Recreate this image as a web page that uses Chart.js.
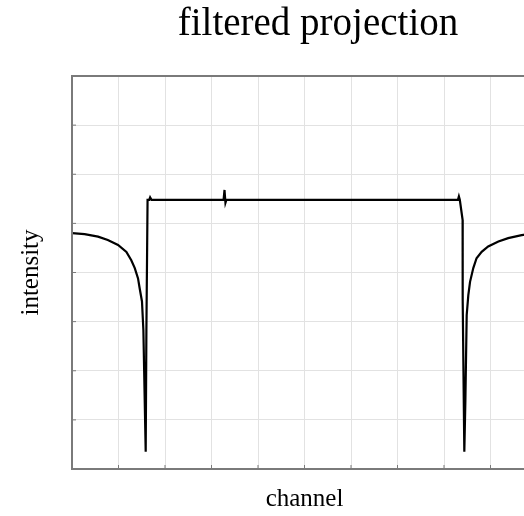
<!DOCTYPE html>
<html lang="en">
<head>
    <meta charset="UTF-8">
    <title>filtered projection</title>
    <style>
        html, body { margin: 0; padding: 0; background: #fff; overflow: hidden; }
        #wrap { position: relative; width: 636px; height: 516px; }
    </style>
    <script src="https://cdn.jsdelivr.net/npm/chart.js"></script>
</head>
<body>
    <div id="wrap"><canvas id="projChart"></canvas></div>
    <script>
        // values (channel 0..100, intensity -4..4)
        const channel = [
            0, 2.7, 5.6, 7.7, 9.9, 11.7, 12.75, 13.5, 14.2, 14.55, 15.05, 15.35, 15.85, 16.0, 16.25,
            16.6, 16.8, 17.1, 32.6, 32.8, 33.0, 33.2, 83.0, 83.2, 83.4,
            84.0, 84.02, 84.37, 84.6, 84.88, 85.23, 85.6, 86.3, 87.0, 88.1, 89.5, 91.7, 93.8, 96.7, 100
        ];
        const intensity = [
            0.80, 0.78, 0.73, 0.66, 0.56, 0.42, 0.25, 0.09, -0.12, -0.32, -0.59, -1.17, -3.65, -1.17, 1.48,
            1.48, 1.53, 1.48, 1.48, 1.68, 1.42, 1.48, 1.48, 1.55, 1.48,
            1.07, -0.56, -3.65, -2.6, -0.87, -0.46, -0.19, 0.09, 0.29, 0.42, 0.53, 0.63, 0.70, 0.76, 0.80
        ];
        const xRange = [0, 100];
        const yRange = [-4, 4];

        const serif = '"Liberation Serif", "Times New Roman", serif';

        // box around the plot area, with short inward tick marks
        const frame = {
            id: 'frame',
            afterDraw(chart) {
                const { ctx, chartArea: a, scales } = chart;
                ctx.save();
                ctx.strokeStyle = '#7a7a7a';
                ctx.lineWidth = 1;
                ctx.beginPath();
                scales.x.ticks.forEach(t => {
                    const px = scales.x.getPixelForValue(t.value);
                    ctx.moveTo(px, a.bottom);
                    ctx.lineTo(px, a.bottom - 4);
                });
                scales.y.ticks.forEach(t => {
                    const py = scales.y.getPixelForValue(t.value);
                    ctx.moveTo(a.left, py);
                    ctx.lineTo(a.left + 4, py);
                });
                ctx.stroke();
                ctx.lineWidth = 2;
                ctx.strokeRect(a.left, a.top, a.right - a.left, a.bottom - a.top);
                ctx.restore();
            }
        };

        const points = channel.map((c, i) => ({ x: c, y: intensity[i] }));

        new Chart(document.getElementById('projChart'), {
            type: 'line',
            data: {
                datasets: [{
                    data: points,
                    borderColor: '#000',
                    borderWidth: 2.2,
                    pointRadius: 0,
                    tension: 0,
                    fill: false
                }]
            },
            options: {
                responsive: true,
                maintainAspectRatio: false,
                animation: false,
                plugins: {
                    legend: { display: false },
                    tooltip: { enabled: false },
                    title: {
                        display: true,
                        text: 'filtered projection',
                        color: '#000',
                        font: { family: serif, size: 39, weight: 'normal' },
                        padding: { top: 1, bottom: 28.2 }
                    }
                },
                scales: {
                    x: {
                        type: 'linear',
                        min: xRange[0],
                        max: xRange[1],
                        ticks: { display: false, stepSize: 10 },
                        grid: { color: '#e2e2e2', drawTicks: false },
                        border: { display: false },
                        title: {
                            display: true,
                            text: 'channel',
                            color: '#000',
                            font: { family: serif, size: 25 },
                            padding: { top: 15, bottom: 2 }
                        }
                    },
                    y: {
                        min: yRange[0],
                        max: yRange[1],
                        ticks: { display: false, stepSize: 1 },
                        grid: { color: '#e2e2e2', drawTicks: false },
                        border: { display: false },
                        title: {
                            display: true,
                            text: 'intensity',
                            color: '#000',
                            font: { family: serif, size: 25 },
                            padding: { top: 16, bottom: 26 }
                        }
                    },
                    // empty right margin of the figure (cut off by the window)
                    yMargin: {
                        position: 'right',
                        display: true,
                        ticks: { display: false },
                        grid: { display: false, drawTicks: false },
                        border: { display: false },
                        afterFit(scale) { scale.width = 99; }
                    }
                }
            },
            plugins: [frame]
        });
    </script>
</body>
</html>
